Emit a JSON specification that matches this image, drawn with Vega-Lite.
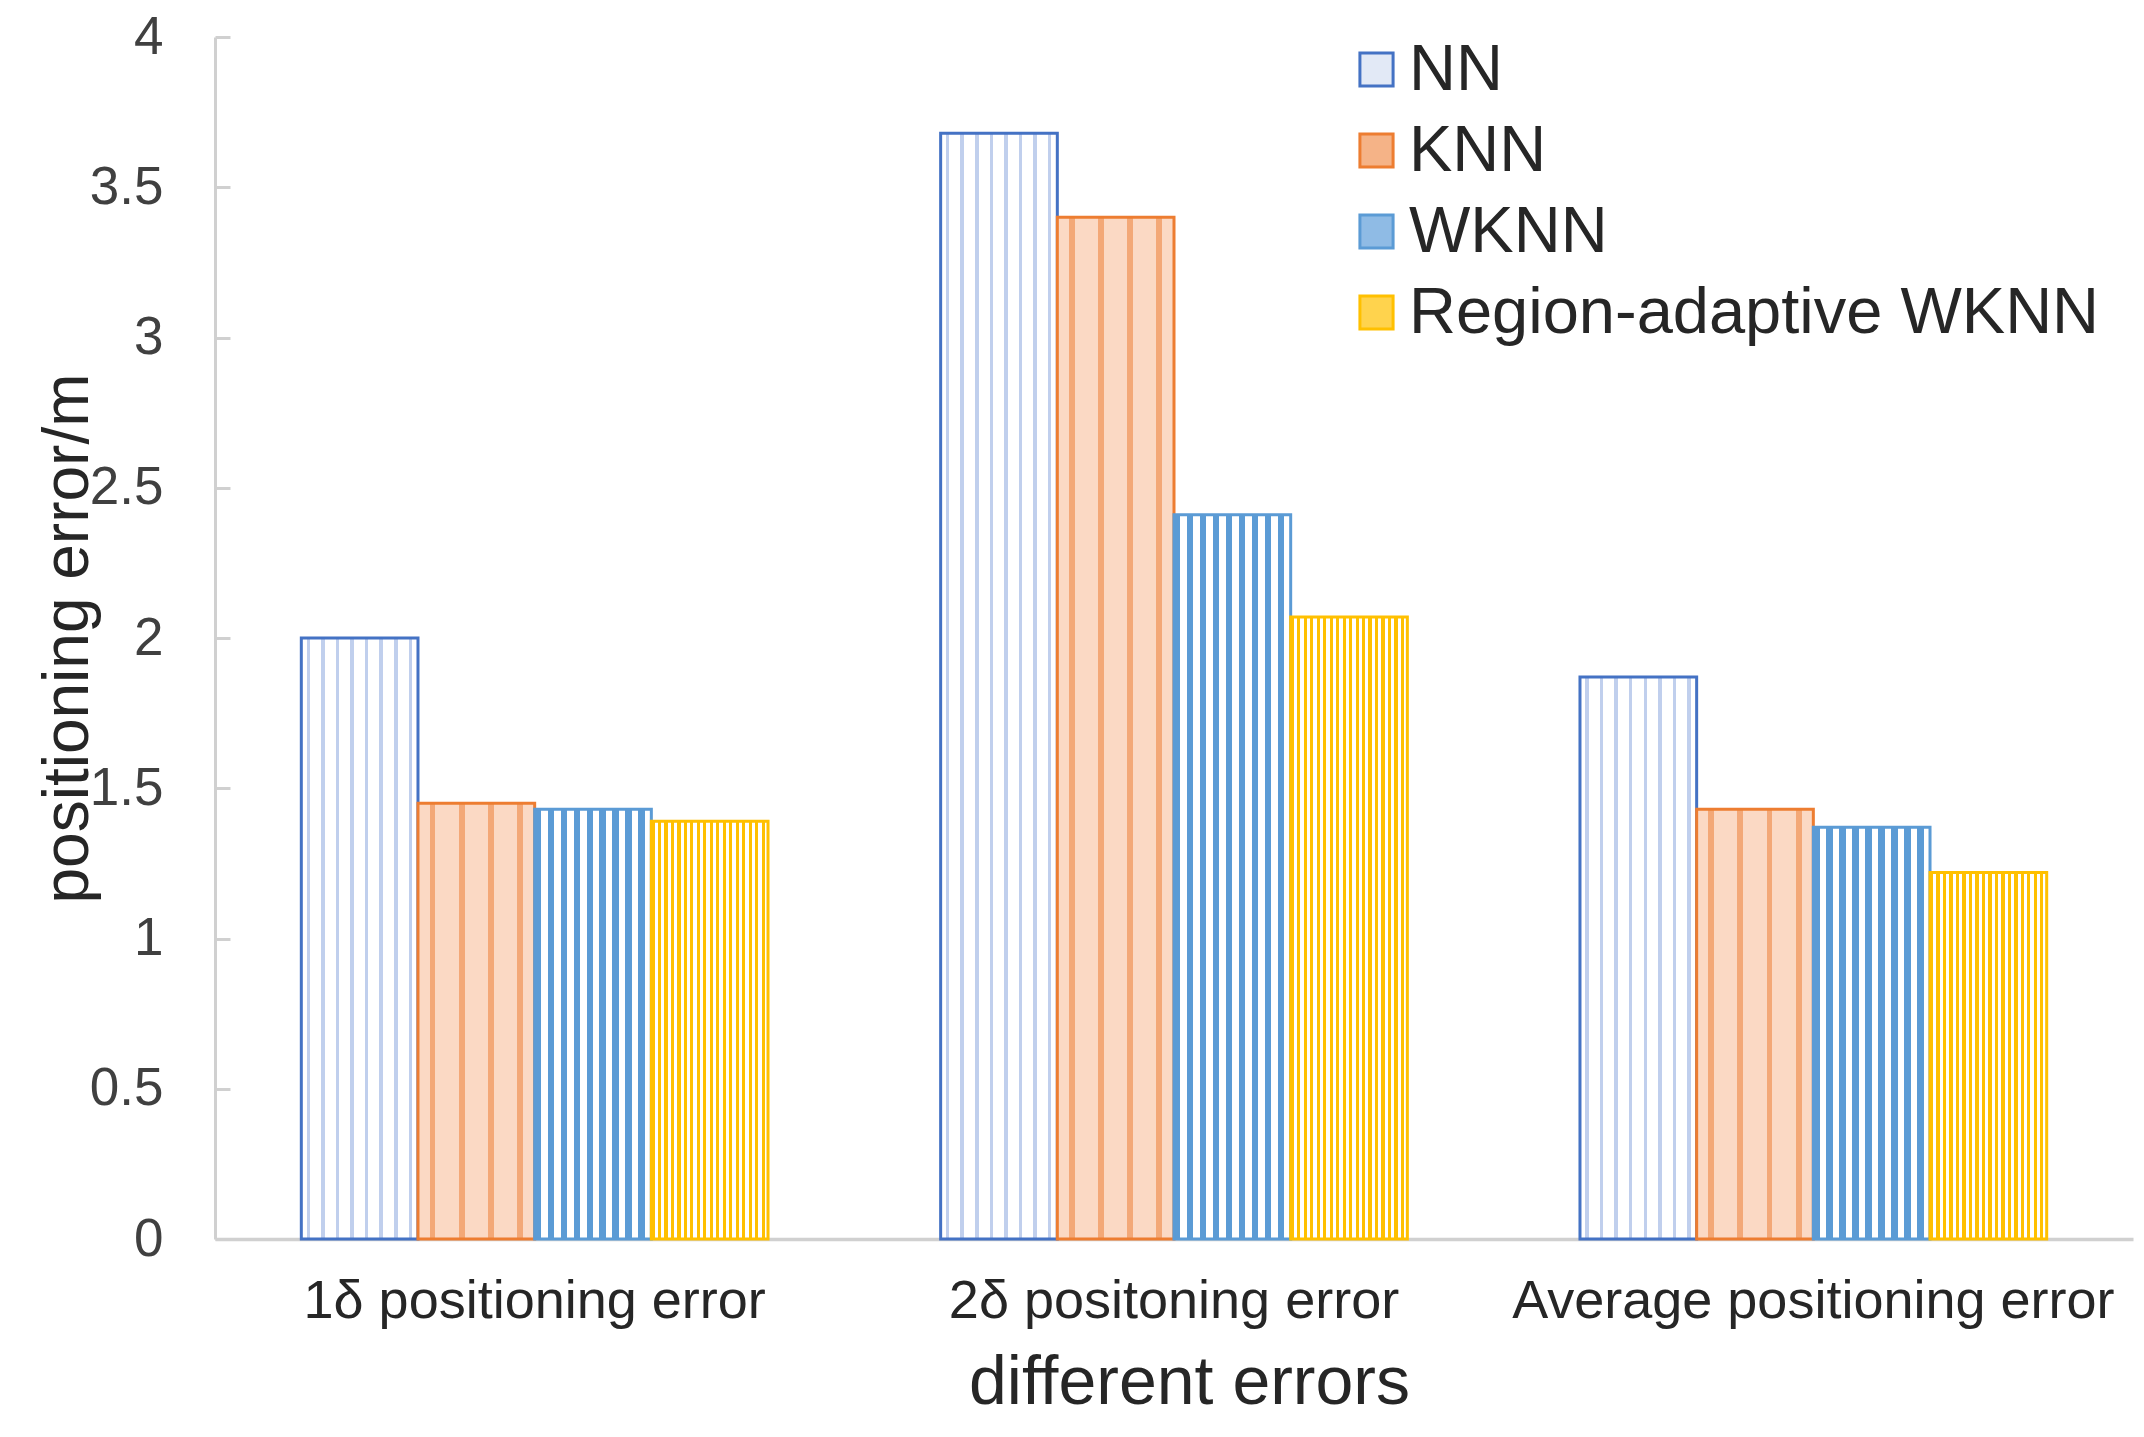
{
  "$schema": "https://vega.github.io/schema/vega-lite/v6.json",
  "width": 1918,
  "height": 1202,
  "autosize": {"type": "none"},
  "padding": {"left": 215, "top": 37, "right": 11, "bottom": 198},
  "background": "white",
  "config": {
    "view": {"stroke": null},
    "font": "Liberation Sans",
    "legend": {
      "orient": "none",
      "legendX": 1129,
      "legendY": 0,
      "symbolType": "square",
      "symbolSize": 1100,
      "symbolStrokeWidth": 3,
      "labelFontSize": 65,
      "labelColor": "#262626",
      "labelOffset": 0,
      "rowPadding": 15,
      "labelLimit": 0
    }
  },
  "data": {
    "values": [
      {"err": "1δ positioning error", "method": "NN", "value": 2.0},
      {"err": "1δ positioning error", "method": "KNN", "value": 1.45},
      {"err": "1δ positioning error", "method": "WKNN", "value": 1.43},
      {"err": "1δ positioning error", "method": "Region-adaptive WKNN", "value": 1.39},
      {"err": "2δ positoning error", "method": "NN", "value": 3.68},
      {"err": "2δ positoning error", "method": "KNN", "value": 3.4},
      {"err": "2δ positoning error", "method": "WKNN", "value": 2.41},
      {"err": "2δ positoning error", "method": "Region-adaptive WKNN", "value": 2.07},
      {"err": "Average positioning error", "method": "NN", "value": 1.87},
      {"err": "Average positioning error", "method": "KNN", "value": 1.43},
      {"err": "Average positioning error", "method": "WKNN", "value": 1.37},
      {"err": "Average positioning error", "method": "Region-adaptive WKNN", "value": 1.22}
    ]
  },
  "mark": {"type": "bar", "strokeWidth": 3},
  "encoding": {
    "x": {
      "field": "err",
      "type": "nominal",
      "sort": ["1δ positioning error", "2δ positoning error", "Average positioning error"],
      "scale": {"paddingInner": 0.27, "paddingOuter": 0.135},
      "title": "different errors",
      "axis": {
        "labelAngle": 0,
        "ticks": false,
        "domainColor": "#d0d0d0",
        "domainWidth": 3.5,
        "labelFontSize": 54,
        "labelColor": "#262626",
        "labelPadding": 35,
        "labelLimit": 0,
        "titleFontSize": 68,
        "titleFontWeight": "normal",
        "titleColor": "#262626",
        "titleX": 974,
        "titleY": 110,
        "titleBaseline": "top",
        "titleAlign": "center"
      }
    },
    "xOffset": {
      "field": "method",
      "type": "nominal",
      "sort": ["NN", "KNN", "WKNN", "Region-adaptive WKNN"],
      "scale": {"paddingInner": 0, "paddingOuter": 0}
    },
    "y": {
      "field": "value",
      "type": "quantitative",
      "scale": {"domain": [0, 4], "nice": false},
      "title": "positioning error/m",
      "axis": {
        "values": [0, 0.5, 1, 1.5, 2, 2.5, 3, 3.5, 4],
        "format": "~g",
        "grid": false,
        "labelFontSize": 53,
        "labelColor": "#404040",
        "labelPadding": 67,
        "tickSize": -15,
        "tickColor": "#d0d0d0",
        "tickWidth": 3,
        "domainColor": "#d0d0d0",
        "domainWidth": 3,
        "titleFontSize": 64,
        "titleFontWeight": "normal",
        "titleColor": "#262626",
        "titleX": -128,
        "titleY": 601,
        "titleAngle": -90,
        "titleBaseline": "alphabetic",
        "titleAlign": "center"
      }
    },
    "stroke": {
      "field": "method",
      "type": "nominal",
      "sort": ["NN", "KNN", "WKNN", "Region-adaptive WKNN"],
      "scale": {
        "domain": ["NN", "KNN", "WKNN", "Region-adaptive WKNN"],
        "range": ["#4472C4", "#ED7D31", "#5B9BD5", "#FFC000"]
      },
      "legend": {"title": null}
    },
    "fill": {
      "field": "method",
      "type": "nominal",
      "sort": ["NN", "KNN", "WKNN", "Region-adaptive WKNN"],
      "scale": {
        "domain": ["NN", "KNN", "WKNN", "Region-adaptive WKNN"],
        "range": ["#e2e9f6", "#f5b387", "#8fbbe5", "#ffd34d"]
      },
      "legend": {"title": null},
      "condition": [
        {"test": "datum.method === 'NN'", "value": {"gradient": "linear", "x1": 0, "y1": 0, "x2": 1, "y2": 0, "stops": [
          {"offset": 0, "color": "#ffffff"},
          {"offset": 0.045, "color": "#ffffff"}, {"offset": 0.045, "color": "#c0cfed"}, {"offset": 0.075, "color": "#c0cfed"}, {"offset": 0.075, "color": "#ffffff"},
          {"offset": 0.17, "color": "#ffffff"}, {"offset": 0.17, "color": "#c0cfed"}, {"offset": 0.2, "color": "#c0cfed"}, {"offset": 0.2, "color": "#ffffff"},
          {"offset": 0.295, "color": "#ffffff"}, {"offset": 0.295, "color": "#c0cfed"}, {"offset": 0.325, "color": "#c0cfed"}, {"offset": 0.325, "color": "#ffffff"},
          {"offset": 0.42, "color": "#ffffff"}, {"offset": 0.42, "color": "#c0cfed"}, {"offset": 0.45, "color": "#c0cfed"}, {"offset": 0.45, "color": "#ffffff"},
          {"offset": 0.545, "color": "#ffffff"}, {"offset": 0.545, "color": "#c0cfed"}, {"offset": 0.575, "color": "#c0cfed"}, {"offset": 0.575, "color": "#ffffff"},
          {"offset": 0.67, "color": "#ffffff"}, {"offset": 0.67, "color": "#c0cfed"}, {"offset": 0.7, "color": "#c0cfed"}, {"offset": 0.7, "color": "#ffffff"},
          {"offset": 0.795, "color": "#ffffff"}, {"offset": 0.795, "color": "#c0cfed"}, {"offset": 0.825, "color": "#c0cfed"}, {"offset": 0.825, "color": "#ffffff"},
          {"offset": 0.92, "color": "#ffffff"}, {"offset": 0.92, "color": "#c0cfed"}, {"offset": 0.95, "color": "#c0cfed"}, {"offset": 0.95, "color": "#ffffff"},
          {"offset": 1, "color": "#ffffff"}]}},
        {"test": "datum.method === 'KNN'", "value": {"gradient": "linear", "x1": 0, "y1": 0, "x2": 1, "y2": 0, "stops": [
          {"offset": 0, "color": "#fbd9c4"}, {"offset": 0.1, "color": "#fbd9c4"}, {"offset": 0.1, "color": "#f3a877"}, {"offset": 0.15, "color": "#f3a877"}, {"offset": 0.15, "color": "#fbd9c4"},
          {"offset": 0.35, "color": "#fbd9c4"}, {"offset": 0.35, "color": "#f3a877"}, {"offset": 0.4, "color": "#f3a877"}, {"offset": 0.4, "color": "#fbd9c4"},
          {"offset": 0.6, "color": "#fbd9c4"}, {"offset": 0.6, "color": "#f3a877"}, {"offset": 0.65, "color": "#f3a877"}, {"offset": 0.65, "color": "#fbd9c4"},
          {"offset": 0.85, "color": "#fbd9c4"}, {"offset": 0.85, "color": "#f3a877"}, {"offset": 0.9, "color": "#f3a877"}, {"offset": 0.9, "color": "#fbd9c4"},
          {"offset": 1, "color": "#fbd9c4"}]}},
        {"test": "datum.method === 'WKNN'", "value": {"gradient": "linear", "x1": 0, "y1": 0, "x2": 1, "y2": 0, "stops": [
          {"offset": 0, "color": "#5B9BD5"}, {"offset": 0.0556, "color": "#5B9BD5"}, {"offset": 0.0556, "color": "#ffffff"}, {"offset": 0.1111, "color": "#ffffff"},
          {"offset": 0.1111, "color": "#5B9BD5"}, {"offset": 0.1667, "color": "#5B9BD5"}, {"offset": 0.1667, "color": "#ffffff"}, {"offset": 0.2222, "color": "#ffffff"},
          {"offset": 0.2222, "color": "#5B9BD5"}, {"offset": 0.2778, "color": "#5B9BD5"}, {"offset": 0.2778, "color": "#ffffff"}, {"offset": 0.3333, "color": "#ffffff"},
          {"offset": 0.3333, "color": "#5B9BD5"}, {"offset": 0.3889, "color": "#5B9BD5"}, {"offset": 0.3889, "color": "#ffffff"}, {"offset": 0.4444, "color": "#ffffff"},
          {"offset": 0.4444, "color": "#5B9BD5"}, {"offset": 0.5, "color": "#5B9BD5"}, {"offset": 0.5, "color": "#ffffff"}, {"offset": 0.5556, "color": "#ffffff"},
          {"offset": 0.5556, "color": "#5B9BD5"}, {"offset": 0.6111, "color": "#5B9BD5"}, {"offset": 0.6111, "color": "#ffffff"}, {"offset": 0.6667, "color": "#ffffff"},
          {"offset": 0.6667, "color": "#5B9BD5"}, {"offset": 0.7222, "color": "#5B9BD5"}, {"offset": 0.7222, "color": "#ffffff"}, {"offset": 0.7778, "color": "#ffffff"},
          {"offset": 0.7778, "color": "#5B9BD5"}, {"offset": 0.8333, "color": "#5B9BD5"}, {"offset": 0.8333, "color": "#ffffff"}, {"offset": 0.8889, "color": "#ffffff"},
          {"offset": 0.8889, "color": "#5B9BD5"}, {"offset": 0.9444, "color": "#5B9BD5"}, {"offset": 0.9444, "color": "#ffffff"}, {"offset": 1, "color": "#ffffff"}]}},
        {"test": "datum.method === 'Region-adaptive WKNN'", "value": {"gradient": "linear", "x1": 0, "y1": 0, "x2": 1, "y2": 0, "stops": [
          {"offset": 0, "color": "#FFC000"}, {"offset": 0.0278, "color": "#FFC000"}, {"offset": 0.0278, "color": "#ffffff"}, {"offset": 0.0556, "color": "#ffffff"},
          {"offset": 0.0556, "color": "#FFC000"}, {"offset": 0.0833, "color": "#FFC000"}, {"offset": 0.0833, "color": "#ffffff"}, {"offset": 0.1111, "color": "#ffffff"},
          {"offset": 0.1111, "color": "#FFC000"}, {"offset": 0.1389, "color": "#FFC000"}, {"offset": 0.1389, "color": "#ffffff"}, {"offset": 0.1667, "color": "#ffffff"},
          {"offset": 0.1667, "color": "#FFC000"}, {"offset": 0.1944, "color": "#FFC000"}, {"offset": 0.1944, "color": "#ffffff"}, {"offset": 0.2222, "color": "#ffffff"},
          {"offset": 0.2222, "color": "#FFC000"}, {"offset": 0.25, "color": "#FFC000"}, {"offset": 0.25, "color": "#ffffff"}, {"offset": 0.2778, "color": "#ffffff"},
          {"offset": 0.2778, "color": "#FFC000"}, {"offset": 0.3056, "color": "#FFC000"}, {"offset": 0.3056, "color": "#ffffff"}, {"offset": 0.3333, "color": "#ffffff"},
          {"offset": 0.3333, "color": "#FFC000"}, {"offset": 0.3611, "color": "#FFC000"}, {"offset": 0.3611, "color": "#ffffff"}, {"offset": 0.3889, "color": "#ffffff"},
          {"offset": 0.3889, "color": "#FFC000"}, {"offset": 0.4167, "color": "#FFC000"}, {"offset": 0.4167, "color": "#ffffff"}, {"offset": 0.4444, "color": "#ffffff"},
          {"offset": 0.4444, "color": "#FFC000"}, {"offset": 0.4722, "color": "#FFC000"}, {"offset": 0.4722, "color": "#ffffff"}, {"offset": 0.5, "color": "#ffffff"},
          {"offset": 0.5, "color": "#FFC000"}, {"offset": 0.5278, "color": "#FFC000"}, {"offset": 0.5278, "color": "#ffffff"}, {"offset": 0.5556, "color": "#ffffff"},
          {"offset": 0.5556, "color": "#FFC000"}, {"offset": 0.5833, "color": "#FFC000"}, {"offset": 0.5833, "color": "#ffffff"}, {"offset": 0.6111, "color": "#ffffff"},
          {"offset": 0.6111, "color": "#FFC000"}, {"offset": 0.6389, "color": "#FFC000"}, {"offset": 0.6389, "color": "#ffffff"}, {"offset": 0.6667, "color": "#ffffff"},
          {"offset": 0.6667, "color": "#FFC000"}, {"offset": 0.6944, "color": "#FFC000"}, {"offset": 0.6944, "color": "#ffffff"}, {"offset": 0.7222, "color": "#ffffff"},
          {"offset": 0.7222, "color": "#FFC000"}, {"offset": 0.75, "color": "#FFC000"}, {"offset": 0.75, "color": "#ffffff"}, {"offset": 0.7778, "color": "#ffffff"},
          {"offset": 0.7778, "color": "#FFC000"}, {"offset": 0.8056, "color": "#FFC000"}, {"offset": 0.8056, "color": "#ffffff"}, {"offset": 0.8333, "color": "#ffffff"},
          {"offset": 0.8333, "color": "#FFC000"}, {"offset": 0.8611, "color": "#FFC000"}, {"offset": 0.8611, "color": "#ffffff"}, {"offset": 0.8889, "color": "#ffffff"},
          {"offset": 0.8889, "color": "#FFC000"}, {"offset": 0.9167, "color": "#FFC000"}, {"offset": 0.9167, "color": "#ffffff"}, {"offset": 0.9444, "color": "#ffffff"},
          {"offset": 0.9444, "color": "#FFC000"}, {"offset": 0.9722, "color": "#FFC000"}, {"offset": 0.9722, "color": "#ffffff"}, {"offset": 1, "color": "#ffffff"}]}}
      ]
    }
  }
}
